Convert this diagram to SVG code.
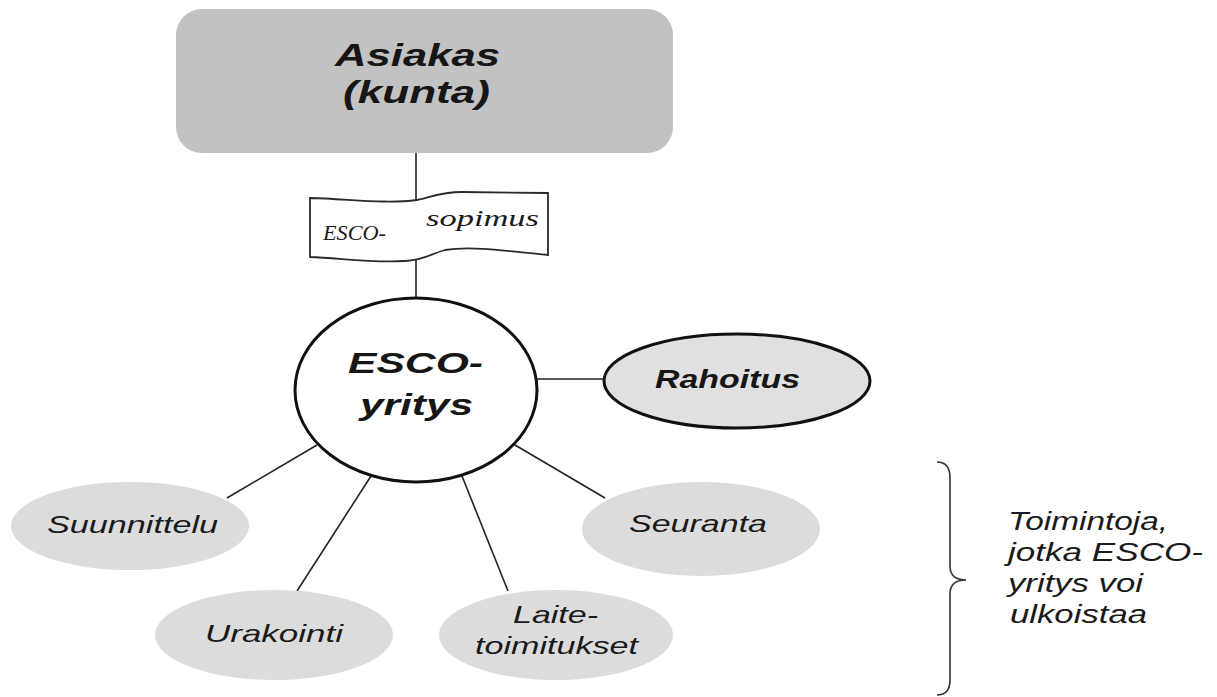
<svg xmlns="http://www.w3.org/2000/svg" width="1217" height="697" viewBox="0 0 1217 697">
<style>
.bi{font-family:"Liberation Sans",Arial,sans-serif;font-weight:bold;font-style:italic;fill:#161616}
.it{font-family:"Liberation Sans",Arial,sans-serif;font-style:italic;fill:#1a1a1a}
.se{font-family:"Liberation Serif","Times New Roman",serif;font-style:italic;fill:#1a1a1a}
.ln{stroke:#222;stroke-width:1.6;fill:none}
.act{fill:#dcdcdc;stroke:none}
</style>
<rect width="1217" height="697" fill="#ffffff"/>
<g id="connectors">
<line class="ln" x1="416" y1="153" x2="416" y2="201"/>
<line class="ln" x1="416" y1="260" x2="416" y2="299"/>
<line class="ln" x1="537" y1="379" x2="605" y2="379"/>
<line class="ln" x1="317" y1="445" x2="227" y2="498"/>
<line class="ln" x1="371" y1="476" x2="297" y2="591"/>
<line class="ln" x1="462" y1="476" x2="508" y2="591"/>
<line class="ln" x1="515" y1="445" x2="605" y2="498"/>
</g>
<g id="asiakas">
<rect x="176" y="9" width="497" height="144" rx="26" ry="26" fill="#c2c2c2"/>
<text class="bi" x="335" y="66" font-size="32" textLength="165" lengthAdjust="spacingAndGlyphs">Asiakas</text>
<text class="bi" x="343" y="103" font-size="32" textLength="147" lengthAdjust="spacingAndGlyphs">(kunta)</text>
</g>
<g id="sopimus">
<path d="M310,198 C350,199 385,204 417,200 C432,197 440,192 462,192 L548,193 L548,255 C500,250 470,246 445,250 C430,254 425,260 405,261 C370,263 340,258 310,257 Z" fill="#ffffff" stroke="#2a2a2a" stroke-width="1.8"/>
<text class="se" x="323" y="240" font-size="22" textLength="63" lengthAdjust="spacingAndGlyphs">ESCO-</text>
<text class="se" x="426" y="226" font-size="23" textLength="113" lengthAdjust="spacingAndGlyphs">sopimus</text>
</g>
<g id="esco">
<ellipse cx="416" cy="390" rx="121" ry="92" fill="#ffffff" stroke="#111" stroke-width="3"/>
<text class="bi" x="348" y="373" font-size="29" textLength="135" lengthAdjust="spacingAndGlyphs">ESCO-</text>
<text class="bi" x="360" y="415" font-size="29" textLength="113" lengthAdjust="spacingAndGlyphs">yritys</text>
</g>
<g id="rahoitus">
<ellipse cx="737" cy="381" rx="133" ry="47" fill="#e0e0e0" stroke="#111" stroke-width="3"/>
<text class="bi" x="655" y="388" font-size="25" textLength="145" lengthAdjust="spacingAndGlyphs">Rahoitus</text>
</g>
<g id="suunnittelu">
<ellipse class="act" cx="130" cy="526" rx="119" ry="44"/>
<text class="it" x="47" y="533" font-size="24" textLength="171" lengthAdjust="spacingAndGlyphs">Suunnittelu</text>
</g>
<g id="seuranta">
<ellipse class="act" cx="701" cy="529" rx="119" ry="47"/>
<text class="it" x="629" y="532" font-size="24" textLength="138" lengthAdjust="spacingAndGlyphs">Seuranta</text>
</g>
<g id="urakointi">
<ellipse class="act" cx="274" cy="635" rx="119" ry="45"/>
<text class="it" x="205" y="642" font-size="24" textLength="138" lengthAdjust="spacingAndGlyphs">Urakointi</text>
</g>
<g id="laitetoimitukset">
<ellipse class="act" cx="556" cy="635" rx="117" ry="45"/>
<text class="it" x="513" y="623" font-size="24" textLength="85" lengthAdjust="spacingAndGlyphs">Laite-</text>
<text class="it" x="475" y="654" font-size="24" textLength="163" lengthAdjust="spacingAndGlyphs">toimitukset</text>
</g>
<g id="brace">
<path d="M937,462 Q950,462 950,478 L950,566 Q950,580 966,580 Q950,580 950,594 L950,680 Q950,695 937,695" fill="none" stroke="#333" stroke-width="1.6"/>
<text class="it" font-size="25">
<tspan x="1008" y="530" textLength="160" lengthAdjust="spacingAndGlyphs">Toimintoja,</tspan>
<tspan x="1008" y="561" textLength="195" lengthAdjust="spacingAndGlyphs">jotka ESCO-</tspan>
<tspan x="1008" y="592" textLength="135" lengthAdjust="spacingAndGlyphs">yritys voi</tspan>
<tspan x="1010" y="623" textLength="137" lengthAdjust="spacingAndGlyphs">ulkoistaa</tspan>
</text>
</g>
</svg>
